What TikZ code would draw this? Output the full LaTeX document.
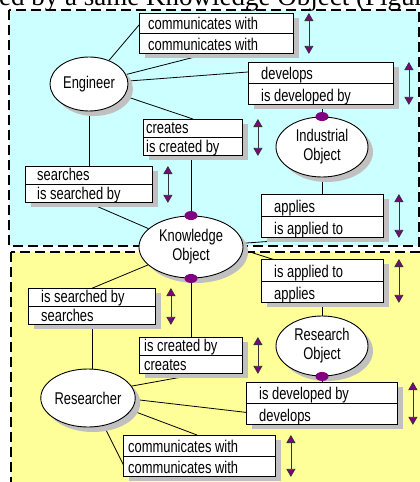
\documentclass[tikz,border=0pt]{standalone}
\usepackage{fontspec}
\setmainfont{Liberation Sans}[FakeStretch=0.76]
\newfontfamily\capfont{Liberation Serif}
\usepackage{tikz}
\usetikzlibrary{shapes.geometric,shadows,arrows.meta,calc}

\definecolor{bluezone}{RGB}{204,255,255}
\definecolor{yellowzone}{RGB}{255,255,153}
\definecolor{dotpurple}{RGB}{128,0,128}
\definecolor{shadowgray}{RGB}{192,192,192}

\pgfdeclarelayer{zonelayer}
\pgfdeclarelayer{linklayer}
\pgfsetlayers{zonelayer,linklayer,main}

\tikzset{
  >={Triangle[width=9pt,length=8pt,fill=dotpurple]},
  entity/.style={ellipse, draw, line width=0.9pt, fill=white, inner sep=0pt, align=center,
    font=\fontsize{17}{19}\selectfont,
    drop shadow={shadow xshift=5pt, shadow yshift=-5pt, fill=shadowgray, opacity=1}},
  relbox/.style={rectangle, draw, line width=0.9pt, fill=white, inner sep=0pt, anchor=north west,
    drop shadow={shadow xshift=6pt, shadow yshift=-5pt, fill=shadowgray, opacity=1}},
  rolelabel/.style={anchor=base west, inner sep=0pt, font=\fontsize{17}{19}\selectfont},
  zone/.style={line width=2pt, dash pattern=on 10pt off 5pt},
  link/.style={line width=0.8pt},
  twoway/.style={line width=0.8pt, draw=black!80, <->},
}

% name, x, y, width, height, indent, upper role, lower role
\newcommand{\rolebox}[8]{%
  \node[relbox, minimum width=#4pt, minimum height=#5pt] (#1) at (#2,#3) {};
  \draw[line width=0.9pt] (#1.west) -- (#1.east);
  \node[rolelabel] (#1-up) at ($(#1.north west)+(#6,#5/2-3.5)$) {#7};
  \node[rolelabel] (#1-dn) at ($(#1.south west)+(#6,-3.5)$) {#8};
  \coordinate (#1-top) at ($(#1.north east)+(15,0)$);
  \coordinate (#1-bot) at ($(#1.south east)+(15,0)$);
  \draw[twoway] (#1-top) -- (#1-bot);
}

\begin{document}
\begin{tikzpicture}[x=1pt,y=-1pt]
\useasboundingbox (0,0) rectangle (420,482);
\clip (0,0) rectangle (420,482);

% the two zones
\begin{pgfonlayer}{zonelayer}
\filldraw[zone, fill=bluezone] (9,10) rectangle (419,246);
\filldraw[zone, fill=yellowzone] (11,252) rectangle (440,500);
\end{pgfonlayer}

\node[anchor=base west, inner sep=0pt, font=\capfont\fontsize{27}{30}\selectfont] (caption) at (-1,5) {ed by a same Knowledge Object (Figure};

% entities
\node[entity, minimum width=78pt, minimum height=54pt] (eng) at (89,84) {Engineer};
\node[entity, minimum width=92pt, minimum height=60pt] (indobj) at (322,147) {Industrial\\Object};
\node[entity, minimum width=104pt, minimum height=62pt] (know) at (191,247) {Knowledge\\Object};
\node[entity, minimum width=92pt, minimum height=60pt] (resobj) at (322,346) {Research\\Object};
\node[entity, minimum width=90pt, minimum height=58pt] (res) at (88,398) {Researcher};

% relations, upper zone
\rolebox{engcomm}{139}{13}{154}{40}{9}{communicates with}{communicates with}
\rolebox{engdev}{248}{62}{145}{42}{13}{develops}{is developed by}
\rolebox{engcreate}{143}{119}{99}{36}{3}{creates}{is created by}
\rolebox{engsearch}{25}{166}{127}{36}{12}{searches}{is searched by}
\rolebox{indapply}{261}{194}{122}{43}{13}{applies}{is applied to}

% relations, lower zone
\rolebox{resapply}{261}{259}{122}{43}{13}{is applied to}{applies}
\rolebox{ressearch}{28}{288}{127}{36}{13}{is searched by}{searches}
\rolebox{rescreate}{139}{337}{103}{36}{5}{is created by}{creates}
\rolebox{resdev}{246}{382}{151}{42}{13}{is developed by}{develops}
\rolebox{rescomm}{123}{435}{152}{41}{5}{communicates with}{communicates with}

% links
\begin{pgfonlayer}{linklayer}
\draw[link] (eng) -- ($(engcomm.north west)+(0,12)$);
\draw[link] (eng) -- ($(engcomm.south west)+(68,0)$);
\draw[link] (eng) -- ($(engdev.north west)+(0,10)$);
\draw[link] (eng) -- (engcreate.north);
\draw[link] (eng) -- (eng |- engsearch.north);
\draw[link] (indobj) -- (indobj |- engdev);
\draw[link] (indobj) -- (indobj |- indapply);
\draw[link] (know) -- (know |- engcreate);
\draw[link] (know) -- (eng |- engsearch.south);
\draw[link] (know) -- ($(indapply.south west)+(70,-1)$);
\draw[link] ($(know)+(40,-1)$) -- ($(resapply.north west)+(30,6)$);
\draw[link] (know) -- ($(ressearch.north west)+(55,4)$);
\draw[link] (know) -- (know |- rescreate);
\draw[link] (resobj) -- (resobj |- resapply);
\draw[link] (resobj) -- (resobj |- resdev);
\draw[link] (ressearch) -- (ressearch |- res);
\draw[link] ($(res)+(0,-4)$) -- ($(rescreate.south west)+(60,0)$);
\draw[link] ($(res)+(0,-4)$) -- ($(resdev.north west)+(14,32)$);
\draw[link] ($(res)+(0,-4)$) -- ($(rescomm.north west)+(74,0)$);
\draw[link] ($(res)+(0,-4)$) -- ($(rescomm.north west)+(5,39)$);
\end{pgfonlayer}

% purple dots
\fill[dotpurple] (indobj.north) ellipse (6.5 and 4.5);
\fill[dotpurple] (know.north) ellipse (6.5 and 4.5);
\fill[dotpurple] (know.south) ellipse (6.5 and 4.5);
\fill[dotpurple] (resobj.south) ellipse (6.5 and 4.5);

\end{tikzpicture}
\end{document}
